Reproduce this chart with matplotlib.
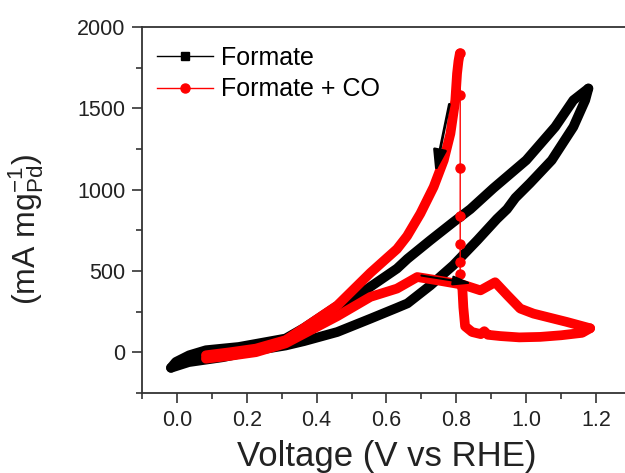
import matplotlib
matplotlib.use("Agg")
import matplotlib.pyplot as plt
from matplotlib.lines import Line2D

plt.rcParams['font.family'] = ['Liberation Sans', 'DejaVu Sans']
plt.rcParams['mathtext.default'] = 'regular'

# Formate: forward scan (-0.02 V -> 1.18 V) and reverse scan back
black_fwd_v = [-0.017, 0.034, 0.131, 0.226, 0.311, 0.364, 0.459, 0.554, 0.63, 0.66,
               0.726, 0.791, 0.86, 0.916, 0.945, 0.969, 1.011, 1.073, 1.135, 1.169, 1.178]
black_fwd_i = [-95, -60, -30, 12, 42, 69, 125, 207, 274, 301,
               412, 535, 689, 820, 880, 950, 1040, 1181, 1386, 1550, 1622]
black_rev_v = [1.178, 1.135, 1.083, 1.0, 0.906, 0.84, 0.791, 0.726, 0.66, 0.63,
               0.545, 0.459, 0.364, 0.311, 0.226, 0.177, 0.083, 0.035, -0.003, -0.017]
black_rev_i = [1622, 1550, 1386, 1181, 1009, 880, 800, 690, 575, 515,
               390, 285, 150, 85, 52, 33, 13, -18, -59, -95]

# Formate + CO: forward scan, then reverse scan down to the reactivation potential
red_fwd_v = [0.083, 0.15, 0.226, 0.311, 0.364, 0.459, 0.554, 0.63, 0.688, 0.745,
             0.82, 0.869, 0.911, 0.946, 0.983, 1.021, 1.116, 1.183]
red_fwd_i = [-39, -22, 1, 55, 115, 222, 341, 392, 463, 443,
             415, 381, 431, 351, 269, 238, 187, 148]
red_rev_v = [1.183, 1.16, 1.10, 1.04, 0.98, 0.926, 0.89, 0.88, 0.87, 0.845, 0.825,
             0.82, 0.817]
red_rev_i = [148, 120, 105, 95, 92, 100, 108, 130, 112, 125, 160,
             277, 400]
# fast current rise at ~0.81 V (sparse points)
red_jump_v = [0.817, 0.811, 0.811, 0.811, 0.811, 0.811, 0.811, 0.811]
red_jump_i = [400, 480, 554, 664, 837, 1132, 1581, 1838]
# return branch after reactivation
red_ret_v = [0.81, 0.806, 0.802, 0.797, 0.783, 0.764, 0.735, 0.697, 0.659, 0.63,
             0.554, 0.459, 0.364, 0.311, 0.226, 0.15, 0.083]
red_ret_i = [1838, 1790, 1714, 1550, 1345, 1181, 1017, 853, 715, 635,
             489, 288, 150, 75, 23, 0, -18]

x_ticks = [0.0, 0.2, 0.4, 0.6, 0.8, 1.0, 1.2]
y_ticks = [0, 500, 1000, 1500, 2000]

W, H = 625, 473
fig = plt.figure(figsize=(W / 100, H / 100), dpi=100)
ax = fig.add_axes([0.2272, 0.1691, 0.7824, 0.7738])

band = dict(lw=7, solid_capstyle='round', solid_joinstyle='round')
ax.plot(black_fwd_v, black_fwd_i, color='black', zorder=2, **band)
ax.plot(black_rev_v, black_rev_i, color='black', zorder=2, **band)
ax.plot(red_fwd_v, red_fwd_i, color='red', zorder=3, **band)
ax.plot(red_rev_v, red_rev_i, color='red', zorder=3, **band)
ax.plot(red_ret_v, red_ret_i, color='red', zorder=3, **band)
ax.plot(red_jump_v, red_jump_i, color='red', lw=1, marker='o', ms=6.5, zorder=3)

# scan direction arrows
ax.annotate('', xy=(0.74, 1107), xytext=(0.78, 1525),
            arrowprops=dict(arrowstyle='-|>,head_length=1.3,head_width=0.4',
                            color='black', lw=2, mutation_scale=10,
                            shrinkA=0, shrinkB=0), zorder=5)
ax.annotate('', xy=(0.845, 423), xytext=(0.70, 472),
            arrowprops=dict(arrowstyle='-|>,head_length=1.1,head_width=0.28',
                            color='black', lw=1.5, mutation_scale=10,
                            shrinkA=0, shrinkB=0), zorder=5)

ax.set_xlim(-0.1, 1.3)
ax.set_ylim(-250, 2000)
ax.set_xticks(x_ticks)
ax.set_xticklabels([f"{t:.1f}" for t in x_ticks])
ax.set_yticks(y_ticks)
ax.set_yticklabels([str(t) for t in y_ticks])
ax.set_xticks([-0.1, 0.1, 0.3, 0.5, 0.7, 0.9, 1.1, 1.3], minor=True)
ax.set_yticks([-250, 250, 750, 1250, 1750], minor=True)
ax.tick_params(which='major', direction='out', length=7, width=1.2,
               labelsize=15.5, colors='#333333', labelcolor='#222222', pad=5,
               top=False, right=False)
ax.tick_params(which='minor', direction='out', length=4, width=1.2,
               colors='#333333', top=False, right=False)
for s in ax.spines.values():
    s.set_color('#333333')
    s.set_linewidth(1.3)

ax.set_xlabel('Voltage (V vs RHE)', fontsize=25, color='#222222', labelpad=7)
fig.text(46 / W, 1 - 229 / H, '(mA mg$_{Pd}^{-1}$)', rotation=90, fontsize=23,
         color='#222222', ha='right', va='center')

handles = [Line2D([], [], color='black', lw=1, marker='s', ms=6),
           Line2D([], [], color='red', lw=1, marker='o', ms=6.5)]
ax.legend(handles, ['Formate', 'Formate + CO'], loc='upper left',
          bbox_to_anchor=(157 / W, 1 - 46 / H), bbox_transform=fig.transFigure,
          frameon=False, fontsize=18, handlelength=2.25, handletextpad=0.3,
          labelspacing=0.3, borderpad=0, borderaxespad=0)

fig.savefig('out.png', dpi=100)
